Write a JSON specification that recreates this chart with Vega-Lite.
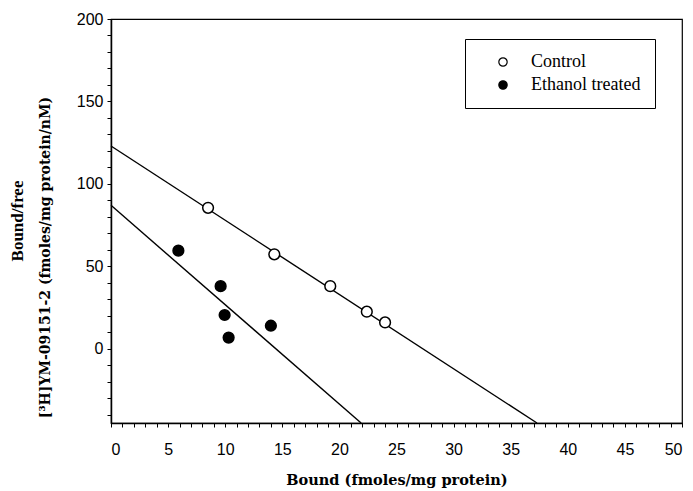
{
  "$schema": "https://vega.github.io/schema/vega-lite/v6.json",
  "autosize": "none",
  "padding": {"left": 111, "top": 19, "right": 11, "bottom": 68},
  "width": 571,
  "height": 404,
  "background": "white",
  "title": {
    "text": "Bound/free",
    "orient": "left",
    "anchor": "middle",
    "frame": "group",
    "offset": 11,
    "font": "Liberation Serif",
    "fontSize": 17,
    "fontWeight": "bold",
    "color": "black"
  },
  "config": {
    "view": {"stroke": "black", "strokeWidth": 1.2},
    "axis": {
      "grid": false,
      "domainColor": "black",
      "domainWidth": 1.5,
      "tickColor": "black",
      "tickWidth": 1,
      "tickSize": 4,
      "labelFont": "Liberation Sans",
      "labelFontSize": 16,
      "labelColor": "black",
      "labelOverlap": false,
      "titleFont": "DejaVu Serif",
      "titleFontSize": 14.5,
      "titleFontWeight": "bold",
      "titleColor": "black"
    }
  },
  "datasets": {
    "points": [
      {"bound": 8.5, "ratio": 85.5, "group": "Control"},
      {"bound": 14.3, "ratio": 57.3, "group": "Control"},
      {"bound": 19.2, "ratio": 38.0, "group": "Control"},
      {"bound": 22.4, "ratio": 22.5, "group": "Control"},
      {"bound": 24.0, "ratio": 16.0, "group": "Control"},
      {"bound": 5.9, "ratio": 59.5, "group": "Ethanol treated"},
      {"bound": 9.6, "ratio": 38.0, "group": "Ethanol treated"},
      {"bound": 9.95, "ratio": 20.5, "group": "Ethanol treated"},
      {"bound": 10.3, "ratio": 6.8, "group": "Ethanol treated"},
      {"bound": 14.0, "ratio": 14.0, "group": "Ethanol treated"}
    ],
    "fits": [
      {"bound": 0, "ratio": 123, "group": "Control"},
      {"bound": 37.3, "ratio": -45, "group": "Control"},
      {"bound": 0, "ratio": 87, "group": "Ethanol treated"},
      {"bound": 21.9, "ratio": -45, "group": "Ethanol treated"}
    ]
  },
  "encoding": {
    "x": {
      "field": "bound",
      "type": "quantitative",
      "scale": {"domain": [0, 50], "nice": false},
      "axis": {
        "title": "Bound (fmoles/mg protein)",
        "values": [0,1,2,3,4,5,6,7,8,9,10,11,12,13,14,15,16,17,18,19,20,21,22,23,24,25,26,27,28,29,30,31,32,33,34,35,36,37,38,39,40,41,42,43,44,45,46,47,48,49,50],
        "labelExpr": "datum.value % 5 === 0 ? datum.label : ''",
        "labelPadding": 14,
        "titlePadding": 16
      }
    },
    "y": {
      "field": "ratio",
      "type": "quantitative",
      "scale": {"domain": [-45, 200], "nice": false, "zero": false},
      "axis": {
        "title": "[³H]YM-09151-2 (fmoles/mg protein/nM)",
        "values": [-40,-30,-20,-10,0,10,20,30,40,50,60,70,80,90,100,110,120,130,140,150,160,170,180,190,200],
        "labelExpr": "datum.value % 50 === 0 && datum.value >= 0 ? datum.label : ''",
        "labelPadding": 4,
        "titleFontSize": 14,
        "titleX": -66,
        "titleY": 238,
        "titleBaseline": "middle"
      }
    }
  },
  "layer": [
    {
      "data": {"name": "fits"},
      "mark": {"type": "line", "color": "black", "strokeWidth": 1.4},
      "encoding": {"detail": {"field": "group"}}
    },
    {
      "data": {"name": "points"},
      "mark": {"type": "point", "shape": "circle", "filled": true, "stroke": "black", "strokeWidth": 1.5, "size": 115, "opacity": 1},
      "encoding": {
        "fill": {
          "field": "group",
          "type": "nominal",
          "scale": {"domain": ["Control", "Ethanol treated"], "range": ["white", "black"]},
          "legend": {
            "title": null,
            "orient": "none",
            "legendX": 354,
            "legendY": 20,
            "strokeColor": "black",
            "padding": 14,
            "symbolOffset": 15,
            "symbolType": "circle",
            "symbolSize": 70,
            "symbolStrokeColor": "black",
            "symbolStrokeWidth": 1.2,
            "labelOffset": 19,
            "labelFont": "Liberation Serif",
            "labelFontSize": 18,
            "labelColor": "black",
            "rowPadding": 5
          }
        }
      }
    }
  ]
}
